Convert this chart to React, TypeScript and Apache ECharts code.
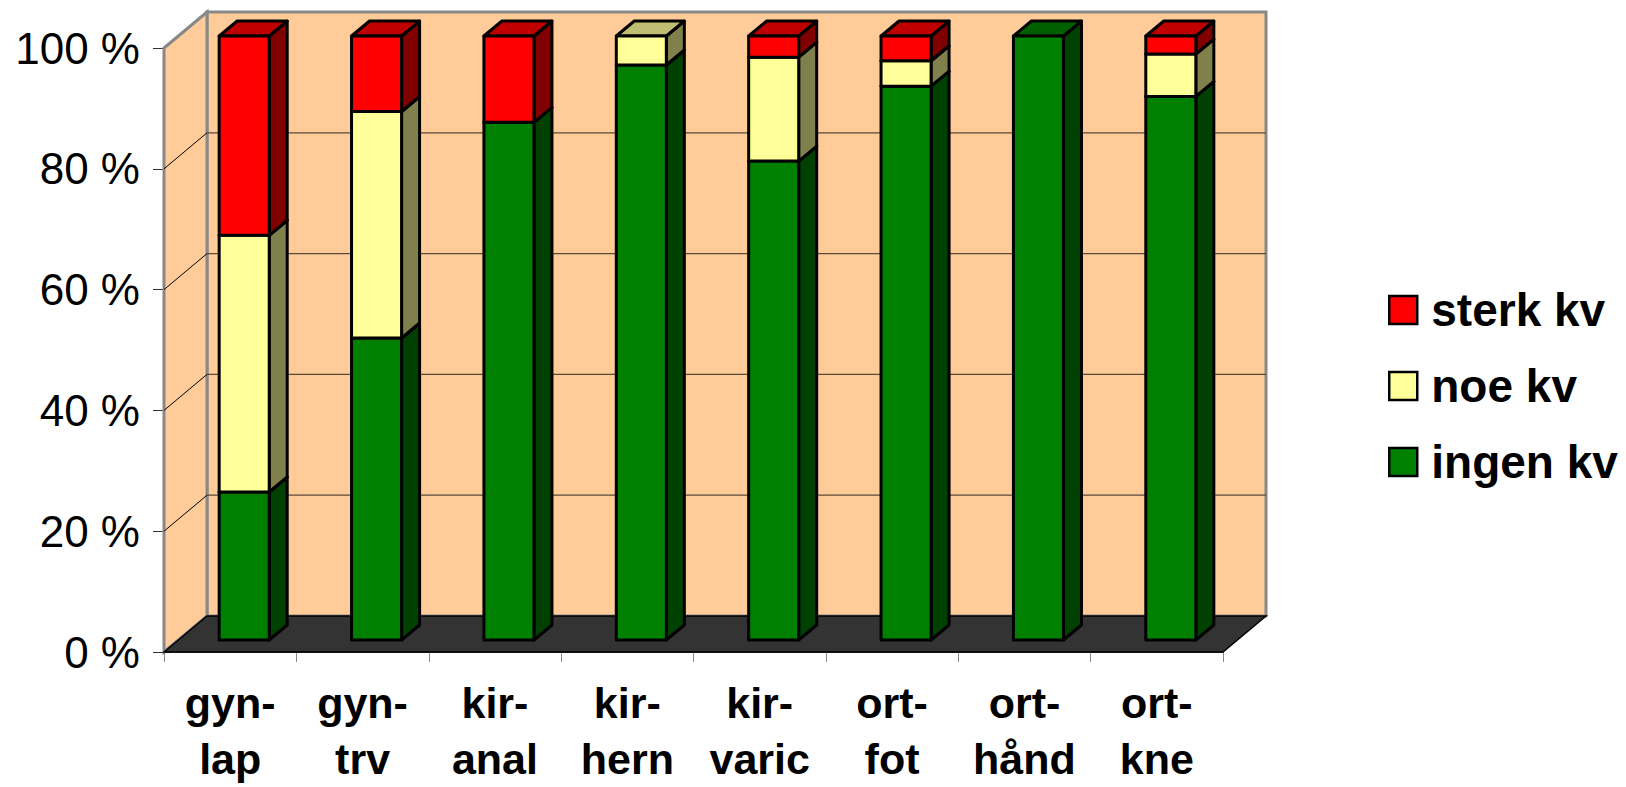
import React, { useEffect, useRef } from 'react';
import * as echarts from 'echarts';

const categories = ['gyn-\nlap', 'gyn-\ntrv', 'kir-\nanal', 'kir-\nhern', 'kir-\nvaric', 'ort-\nfot', 'ort-\nhånd', 'ort-\nkne'];
const ingenKv = [24.5, 50, 85.7, 95.2, 79.3, 91.7, 100, 90];
const noeKv = [42.5, 37.5, 0, 4.8, 17.2, 4.2, 0, 7];
const sterkKv = [33, 12.5, 14.3, 0, 3.5, 4.1, 0, 3];
const yTicks = [0, 20, 40, 60, 80, 100];
const seriesNames = ['ingen kv', 'noe kv', 'sterk kv'];
const legendOrder = ['sterk kv', 'noe kv', 'ingen kv'];

const palette = [
  { front: '#008000', side: '#004000', top: '#006000' },
  { front: '#FFFF99', side: '#80804D', top: '#BFBF73' },
  { front: '#FF0000', side: '#800000', top: '#C00000' },
];

// 3D projection constants (pixels)
const WDX = 43, WDY = -36; // wall depth
const FDX = 14, FDY = -12; // bar front-face offset from axis plane
const DDX = 18, DDY = -15; // bar depth
const BAR_RATIO = 0.378;
const FONT = '"Liberation Sans", Arial, sans-serif';

const makeBarRender = (c: { front: string; side: string; top: string }) => (params: any, api: any) => {
  const i = api.value(0);
  const b = api.value(1);
  const t = api.value(2);
  if (t - b <= 0) return null;
  const pb = api.coord([i, b]);
  const pt = api.coord([i, t]);
  const band = api.size([1, 0])[0];
  const w = band * BAR_RATIO;
  const x0 = pb[0] - w / 2 + FDX;
  const x1 = x0 + w;
  const yB = pb[1] + FDY;
  const yT = pt[1] + FDY;
  const st = { stroke: '#000', lineWidth: 3, lineJoin: 'round' };
  return {
    type: 'group',
    children: [
      { type: 'polygon', shape: { points: [[x1, yB], [x1, yT], [x1 + DDX, yT + DDY], [x1 + DDX, yB + DDY]] }, style: { fill: c.side, ...st } },
      { type: 'polygon', shape: { points: [[x0, yT], [x1, yT], [x1 + DDX, yT + DDY], [x0 + DDX, yT + DDY]] }, style: { fill: c.top, ...st } },
      { type: 'rect', shape: { x: x0, y: yT, width: w, height: yB - yT }, style: { fill: c.front, ...st } },
    ],
  };
};

const renderWalls = (params: any, api: any) => {
  const band = api.size([1, 0])[0];
  const p0 = api.coord([0, 0]);
  const p100 = api.coord([0, 100]);
  const L = p0[0] - band / 2;
  const R = api.coord([categories.length - 1, 0])[0] + band / 2;
  const y0 = p0[1];
  const y100 = p100[1];
  const children: any[] = [
    { type: 'rect', shape: { x: L + WDX, y: y100 + WDY, width: R - L, height: y0 - y100 }, style: { fill: '#FFCC99', stroke: '#888888', lineWidth: 3 } },
    { type: 'polygon', shape: { points: [[L, y100], [L + WDX, y100 + WDY], [L + WDX, y0 + WDY], [L, y0]] }, style: { fill: '#FFCC99', stroke: '#888888', lineWidth: 3 } },
  ];
  yTicks.forEach((v) => {
    if (v === 0 || v === 100) return;
    const yv = api.coord([0, v])[1];
    children.push({ type: 'line', shape: { x1: L + WDX, y1: yv + WDY, x2: R + WDX, y2: yv + WDY }, style: { stroke: '#5a4a3c', lineWidth: 1.3 } });
    children.push({ type: 'line', shape: { x1: L, y1: yv, x2: L + WDX, y2: yv + WDY }, style: { stroke: '#000', lineWidth: 1 } });
  });
  children.push({ type: 'polygon', shape: { points: [[L, y0], [L + WDX, y0 + WDY], [R + WDX, y0 + WDY], [R, y0]] }, style: { fill: '#333333', stroke: '#000', lineWidth: 1.5 } });
  return { type: 'group', children };
};

export default function App() {
  const ref = useRef<HTMLDivElement>(null);
  useEffect(() => {
    if (!ref.current) return;
    const chart = echarts.init(ref.current, undefined, { renderer: 'svg' });
    const values = [ingenKv, noeKv, sterkKv];
    const base = categories.map(() => 0);
    const barSeries = values.map((arr, s) => {
      const data = arr.map((v, i) => {
        const d = [i, base[i], base[i] + v];
        base[i] += v;
        return d;
      });
      return {
        type: 'custom',
        name: seriesNames[s],
        coordinateSystem: 'cartesian2d',
        renderItem: makeBarRender(palette[s]),
        encode: { x: 0, y: [1, 2] },
        itemStyle: { color: palette[s].front },
        clip: false,
        z: 2,
        data,
      };
    });
    chart.setOption({
      animation: false,
      backgroundColor: '#ffffff',
      grid: { left: 164, right: 403, top: 48, bottom: 127 },
      legend: {
        data: legendOrder,
        orient: 'vertical',
        left: 1383,
        top: 282,
        itemWidth: 28,
        itemHeight: 28,
        itemGap: 30,
        icon: 'rect',
        itemStyle: { borderColor: '#000', borderWidth: 2.5 },
        textStyle: { fontSize: 46, fontWeight: 'bold', fontFamily: FONT, color: '#000', lineHeight: 46, padding: [0, 0, 0, 9] },
      },
      xAxis: {
        type: 'category',
        data: categories,
        axisLine: { lineStyle: { color: '#000', width: 1.5 } },
        axisTick: { show: true, length: 10, lineStyle: { color: '#888' }, interval: 0 },
        axisLabel: { interval: 0, fontSize: 43, fontWeight: 'bold', fontFamily: FONT, color: '#000', lineHeight: 56, margin: 23 },
        splitLine: { show: false },
      },
      yAxis: {
        type: 'value',
        min: 0,
        max: 100,
        interval: 20,
        axisLine: { show: true, lineStyle: { color: '#888', width: 3 } },
        axisTick: { show: true, length: 11, lineStyle: { color: '#333' } },
        axisLabel: { formatter: '{value} %', fontSize: 44, fontFamily: FONT, color: '#000', margin: 24 },
        splitLine: { show: false },
      },
      series: [
        {
          type: 'custom',
          name: 'walls',
          coordinateSystem: 'cartesian2d',
          renderItem: renderWalls,
          encode: { x: 0, y: 1 },
          clip: false,
          silent: true,
          z: 1,
          data: [[0, 0]],
        },
        ...barSeries,
      ],
    });
    return () => chart.dispose();
  }, []);
  return <div ref={ref} style={{ position: 'fixed', left: 0, top: 0, width: 1626, height: 787 }} />;
}
